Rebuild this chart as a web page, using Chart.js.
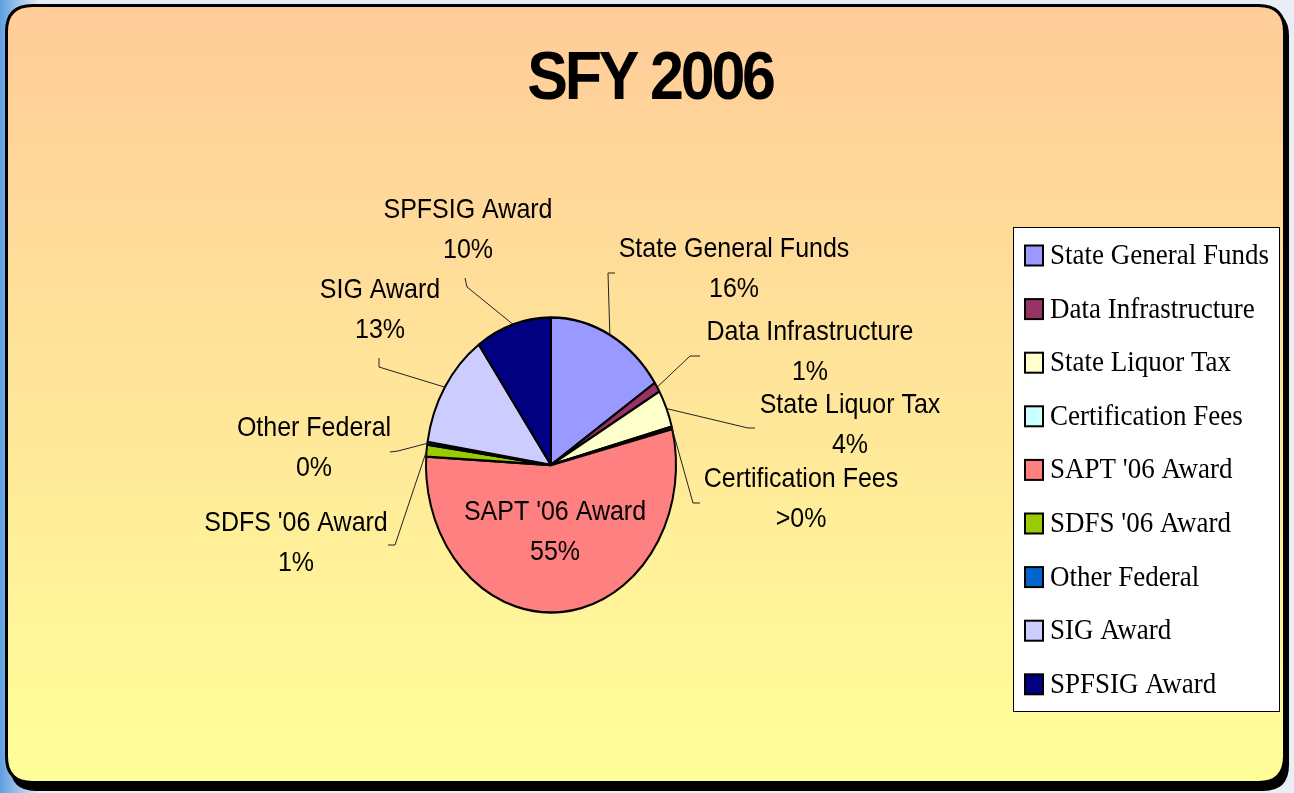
<!DOCTYPE html>
<html>
<head>
<meta charset="utf-8">
<script src="https://cdn.jsdelivr.net/npm/chart.js@4/dist/chart.umd.min.js"></script>
<style>
html,body{margin:0;padding:0;background:#e9eef6;}
canvas{display:block;}
</style>
</head>
<body>
<canvas id="c" width="1294" height="793"></canvas>
<script>
// ---- data ----
const chartTitle = "SFY 2006";
const categories = ["State General Funds","Data Infrastructure","State Liquor Tax","Certification Fees","SAPT '06 Award","SDFS '06 Award","Other Federal","SIG Award","SPFSIG Award"];
const shares = [15.6, 1.1, 4.1, 0.3, 54.8, 1.3, 0.3, 12.7, 9.8];
const pctLabels = ["16%","1%","4%",">0%","55%","1%","0%","13%","10%"];
const sliceColors = ["#9999FF","#993366","#FFFFCC","#CCFFFF","#FF8080","#99CC00","#0066CC","#CCCCFF","#000080"];

// ---- label layout (text positions and leader elbows, not data) ----
const labelCenters = [[734,249],[810,332],[850,405],[801,479],[555,512],[296,523],[314,428],[380,290],[468,210]];
const leaderElbows = [[615,273,608,273],[700,356,690,356],[755,428,748,428],[700,503,693,503],null,[388,545,395,545],[390,452,398,451],[379,358,379,367],[465,278,467,287]];
const LINE_GAP = 40;
const PIE_SY = 1.18;
const TEXT_SY = 1.12;

function stretchText(ctx, text, x, y, sy){
  ctx.save(); ctx.translate(x,y); ctx.scale(1,sy); ctx.fillText(text,0,0); ctx.restore();
}
function roundRect(ctx,x,y,w,h,r){
  ctx.beginPath();
  ctx.moveTo(x+r,y); ctx.lineTo(x+w-r,y); ctx.quadraticCurveTo(x+w,y,x+w,y+r);
  ctx.lineTo(x+w,y+h-r); ctx.quadraticCurveTo(x+w,y+h,x+w-r,y+h);
  ctx.lineTo(x+r,y+h); ctx.quadraticCurveTo(x,y+h,x,y+h-r);
  ctx.lineTo(x,y+r); ctx.quadraticCurveTo(x,y,x+r,y); ctx.closePath();
}

const framePlugin = {
  id:'frame',
  beforeDraw(chart){
    const ctx = chart.ctx, W = chart.width, H = chart.height;
    ctx.save();
    // slide background
    const bg = ctx.createLinearGradient(0,0,40,0);
    bg.addColorStop(0,'#5f9fe0'); bg.addColorStop(1,'#e9eef6');
    ctx.fillStyle = bg; ctx.fillRect(0,0,W,H);
    ctx.fillStyle = '#e9eef6'; ctx.fillRect(40,0,W-40,H);
    // shadow
    ctx.fillStyle = '#000';
    roundRect(ctx, 10, 10, 1279, 781, 26); ctx.fill();
    // panel
    const g = ctx.createLinearGradient(0,6,0,783);
    g.addColorStop(0,'#FFCC99'); g.addColorStop(1,'#FFFF99');
    roundRect(ctx, 6.5, 5.5, 1278, 777, 26);
    ctx.fillStyle = g; ctx.fill();
    ctx.lineWidth = 3; ctx.strokeStyle = '#000'; ctx.stroke();
    // title
    ctx.fillStyle = '#000';
    ctx.font = 'bold 61px "Liberation Sans", Arial, sans-serif';
    ctx.textAlign = 'center'; ctx.textBaseline = 'alphabetic';
    try { ctx.letterSpacing = '-3.2px'; } catch(e) {}
    stretchText(ctx, chartTitle, 650, 99, TEXT_SY);
    try { ctx.letterSpacing = '0px'; } catch(e) {}
    // legend
    ctx.fillStyle = '#fff';
    ctx.fillRect(1013.5,227.5,266,484);
    ctx.lineWidth = 1; ctx.strokeStyle = '#000';
    ctx.strokeRect(1013.5,227.5,266,484);
    ctx.font = '27px "Liberation Serif", "Times New Roman", serif';
    ctx.textAlign = 'left';
    const colors = chart.data.datasets[0].backgroundColor;
    chart.data.labels.forEach((lab,i)=>{
      const yTop = 245.5 + i*53.6;
      ctx.fillStyle = colors[i];
      ctx.fillRect(1025,yTop,18,20);
      ctx.lineWidth = 2; ctx.strokeStyle = '#000';
      ctx.strokeRect(1025,yTop,18,20);
      ctx.fillStyle = '#000';
      stretchText(ctx, lab, 1050, yTop+18.5, TEXT_SY);
    });
    ctx.restore();
  },
  beforeDatasetsDraw(chart){
    const a = chart.getDatasetMeta(0).data[0];
    const ctx = chart.ctx;
    ctx.save();
    ctx.translate(a.x,a.y); ctx.scale(1,PIE_SY); ctx.translate(-a.x,-a.y);
  },
  afterDatasetsDraw(chart){
    const ctx = chart.ctx;
    ctx.restore();
    ctx.save();
    const arcs = chart.getDatasetMeta(0).data;
    // leader lines
    ctx.strokeStyle = '#222'; ctx.lineWidth = 1;
    arcs.forEach((el,i)=>{
      const L = leaderElbows[i];
      if(!L) return;
      const mid = (el.startAngle+el.endAngle)/2;
      const R = el.outerRadius;
      const rx = el.x + R*Math.cos(mid), ry = el.y + R*PIE_SY*Math.sin(mid);
      ctx.beginPath();
      ctx.moveTo(L[0],L[1]); ctx.lineTo(L[2],L[3]); ctx.lineTo(rx,ry);
      ctx.stroke();
    });
    // labels
    ctx.fillStyle = '#000';
    ctx.font = '25px "Liberation Sans", Arial, sans-serif';
    ctx.textAlign = 'center'; ctx.textBaseline = 'middle';
    chart.data.labels.forEach((lab,i)=>{
      const p = labelCenters[i];
      stretchText(ctx, lab, p[0], p[1], TEXT_SY);
      stretchText(ctx, pctLabels[i], p[0], p[1]+LINE_GAP, TEXT_SY);
    });
    ctx.restore();
  }
};

new Chart(document.getElementById('c'), {
  type:'pie',
  data:{
    labels: categories,
    datasets:[{
      data: shares,
      backgroundColor: sliceColors,
      borderColor:'#000',
      borderWidth:2,
      radius:125
    }]
  },
  options:{
    responsive:false,
    devicePixelRatio:1,
    animation:false,
    layout:{padding:{left:400,right:592,top:315,bottom:178}},
    plugins:{legend:{display:false},title:{display:false},tooltip:{enabled:false}}
  },
  plugins:[framePlugin]
});
</script>
</body>
</html>
